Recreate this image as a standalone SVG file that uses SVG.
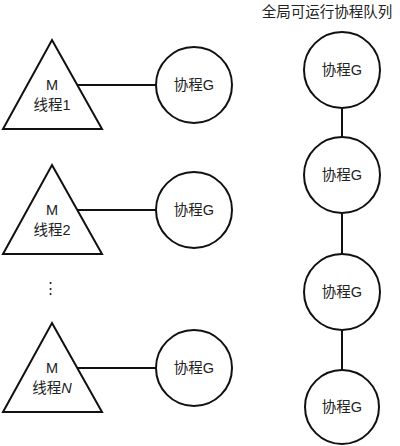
<svg xmlns="http://www.w3.org/2000/svg" width="400" height="446" viewBox="0 0 400 446">
<style>
.s{fill:#fff;stroke:#111;stroke-width:2}
.c{stroke:#111;stroke-width:2;fill:none}
text{font-family:"Liberation Sans","Noto Sans CJK SC",sans-serif;font-size:14.5px;fill:#222;text-anchor:middle}
</style>
<rect width="400" height="446" fill="#fff"/>
<g id="connectors">
<line class="c" x1="77" y1="85" x2="156" y2="85"/>
<line class="c" x1="77" y1="210" x2="156" y2="210"/>
<line class="c" x1="77" y1="368" x2="156" y2="368"/>
<line class="c" x1="342" y1="108" x2="342" y2="137"/>
<line class="c" x1="342" y1="213" x2="342" y2="254"/>
<line class="c" x1="342" y1="330" x2="342" y2="370"/>
</g>
<text x="327" y="17">全局可运行协程队列</text>
<g id="m1"><polygon class="s" points="52,40 102,129 3,129"/><text x="52" y="90">M</text><text x="52" y="110">线程1</text></g>
<g id="m2"><polygon class="s" points="52,165 102,254 3,254"/><text x="52" y="215">M</text><text x="52" y="235">线程2</text></g>
<g id="dots"><text x="50" y="293" font-size="18">⋮</text></g>
<g id="m3"><polygon class="s" points="52,323 102,412 3,412"/><text x="52" y="373">M</text><text x="52" y="393">线程<tspan font-style="italic">N</tspan></text></g>
<g id="g1"><circle class="s" cx="194" cy="85" r="38"/><text x="194" y="90">协程G</text></g>
<g id="g2"><circle class="s" cx="194" cy="210" r="38"/><text x="194" y="215">协程G</text></g>
<g id="g3"><circle class="s" cx="194" cy="368" r="38"/><text x="194" y="373">协程G</text></g>
<g id="q1"><circle class="s" cx="342" cy="70" r="38"/><text x="342" y="75">协程G</text></g>
<g id="q2"><circle class="s" cx="342" cy="175" r="38"/><text x="342" y="180">协程G</text></g>
<g id="q3"><circle class="s" cx="342" cy="292" r="38"/><text x="342" y="297">协程G</text></g>
<g id="q4"><circle class="s" cx="342" cy="407" r="37"/><text x="342" y="412">协程G</text></g>
</svg>
